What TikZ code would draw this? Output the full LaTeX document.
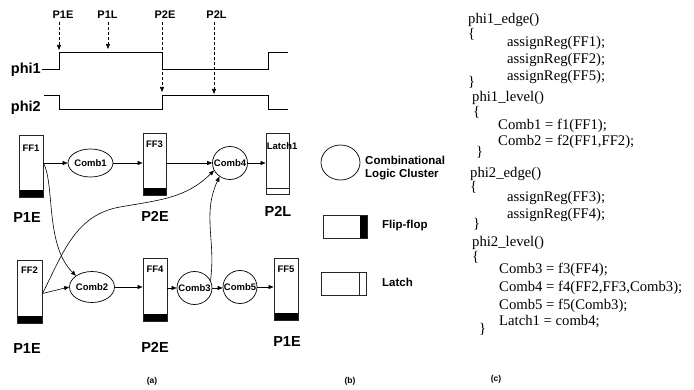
\documentclass[tikz,border=0pt]{standalone}
\usepackage{fontspec}
\setmainfont{Liberation Serif}
\setsansfont{Liberation Sans}
\usetikzlibrary{shapes.geometric,arrows.meta}
\begin{document}
\begin{tikzpicture}[x=1pt,y=-1pt,
  lab/.style={font=\fontsize{14.5}{16}\selectfont\sffamily\bfseries, inner sep=0pt},
  tlab/.style={font=\fontsize{11}{13}\selectfont\sffamily\bfseries, inner sep=0pt},
  small/.style={font=\fontsize{9.5}{11}\selectfont\sffamily\bfseries, inner sep=0pt},
  leg/.style={font=\fontsize{11.5}{13}\selectfont\sffamily\bfseries, inner sep=0pt, align=left},
  capt/.style={font=\fontsize{8.5}{10}\selectfont\sffamily\bfseries, inner sep=0pt},
  code/.style={font=\fontsize{14.7}{17}\selectfont\rmfamily, inner sep=0pt, anchor=base west},
  comb/.style={ellipse, draw, line width=0.7pt, inner sep=0pt, font=\fontsize{9.5}{11}\selectfont\sffamily\bfseries},
  reg/.style={rectangle, draw=black!85, line width=0.9pt, inner sep=0pt},
  ffbox/.style={reg, path picture={\fill (path picture bounding box.south west) rectangle ([yshift=7pt]path picture bounding box.south east);}},
  wave/.style={line width=0.8pt},
  arr/.style={-{Triangle[length=5pt,width=4pt]}, line width=0.6pt},
  darr/.style={arr, dash pattern=on 3pt off 2pt}
]
\useasboundingbox (0,0) rectangle (694,390);

% ---------- timing diagram ----------
\node[lab, anchor=east] (phi1) at (41,70) {phi1};
\node[lab, anchor=east] (phi2) at (41,108) {phi2};
\draw[wave] (42,69.5) -- (59,69.5) -- (59,52) -- (162,52) -- (162,69.5) -- (268,69.5) -- (268,52) -- (288,52);
\draw[wave] (44,95) -- (59,95) -- (59,109) -- (162,109) -- (162,95) -- (268,95) -- (268,109) -- (288,109);

\node[tlab] (p1e) at (63,15) {P1E};
\node[tlab] (p1l) at (107.5,15) {P1L};
\node[tlab] (p2e) at (165,15) {P2E};
\node[tlab] (p2l) at (216.5,15) {P2L};
\coordinate (e1) at (59,50);
\coordinate (e2) at (108,49);
\coordinate (e3) at (162,92);
\coordinate (e4) at (214,94);
\draw[darr] ([yshift=-3pt]p1e.south -| e1) -- (e1);
\draw[darr] ([yshift=-3pt]p1l.south -| e2) -- (e2);
\draw[darr] ([yshift=-3pt]p2e.south -| e3) -- (e3);
\draw[darr] ([yshift=-3pt]p2l.south -| e4) -- (e4);

% ---------- registers ----------
\node[ffbox, minimum width=24pt, minimum height=62pt] (ff1) at (31,166) {};
\node[ffbox, minimum width=23pt, minimum height=62pt] (ff3) at (154.5,164) {};
\node[reg, minimum width=23pt, minimum height=61pt] (latch1) at (277.5,163.5) {};
\draw[draw=black!85, line width=0.9pt] ([yshift=6pt]latch1.south west) -- ([yshift=6pt]latch1.south east);
\node[ffbox, minimum width=25pt, minimum height=63pt] (ff2) at (29.5,291.5) {};
\node[ffbox, minimum width=24pt, minimum height=63pt] (ff4) at (155,289.5) {};
\node[ffbox, minimum width=24pt, minimum height=62pt] (ff5) at (286,289) {};

\node[small, anchor=north] (tff1) at ([yshift=-10pt]ff1.north) {FF1};
\node[small, anchor=north] (tff3) at ([yshift=-8pt]ff3.north) {FF3};
\node[small, anchor=north west] (tl1) at ([xshift=1pt,yshift=-10pt]latch1.north west) {Latch1};
\node[small, anchor=north] (tff2) at ([yshift=-7pt]ff2.north) {FF2};
\node[small, anchor=north] (tff4) at ([yshift=-8pt]ff4.north) {FF4};
\node[small, anchor=north] (tff5) at ([yshift=-8pt]ff5.north) {FF5};

% ---------- combinational clusters ----------
\node[comb, minimum width=45pt, minimum height=28pt] (comb1) at (90.5,163) {\makebox[0pt]{Comb1}};
\node[comb, minimum width=35pt, minimum height=33pt] (comb4) at (230,163) {\makebox[0pt]{Comb4}};
\node[comb, minimum width=45pt, minimum height=31pt] (comb2) at (92,287) {\makebox[0pt]{Comb2}};
\node[comb, minimum width=35pt, minimum height=33pt] (comb3) at (194.5,288) {\makebox[0pt]{Comb3}};
\node[comb, minimum width=34pt, minimum height=33pt] (comb5) at (240,287) {\makebox[0pt]{Comb5}};

% ---------- phase labels ----------
\node[lab] (l1) at (27,218) {P1E};
\node[lab] (l2) at (155,216) {P2E};
\node[lab] (l3) at (278,211) {P2L};
\node[lab] (l4) at (27,349) {P1E};
\node[lab] (l5) at (155,347) {P2E};
\node[lab] (l6) at (287,342) {P1E};

% ---------- connectors ----------
\draw[arr] (ff1.east |- comb1.west) -- (comb1.west);
\draw[arr] (comb1.east) -- (ff3.west |- comb1.east);
\draw[arr] (ff3.east |- comb4.west) -- (comb4.west);
\draw[arr] (comb4.east) -- (latch1.west |- comb4.east);
\draw[arr] ([yshift=-2pt]ff2.east) -- (comb2.west);
\draw[arr] (comb2.east) -- (ff4.west |- comb2.east);
\draw[arr] (ff4.east |- comb3.west) -- (comb3.west);
\draw[arr] (comb3.east) -- (comb5.west |- comb3.east);
\draw[arr] (comb5.east) -- (ff5.west |- comb5.east);

\draw[arr] (ff1.east |- comb1.west) .. controls (55,185) and (45,245) .. (comb2.145);
\coordinate (w1) at (120,207);
\draw[arr] ([yshift=-2pt]ff2.east) to[out=63,in=190] (w1) to[out=10,in=225] (comb4.205);
\draw[arr] (comb3.25) .. controls (216,240) and (202,215) .. (comb4.232);

% ---------- legend ----------
\node[ellipse, draw, line width=0.7pt, inner sep=0pt, minimum width=39pt, minimum height=35pt] (lgc) at (340.5,162.5) {};
\node[leg, anchor=west] (lgct) at (365,168.5) {Combinational\\Logic Cluster};
\node[reg, minimum width=44pt, minimum height=23pt,
  path picture={\fill ([xshift=-7pt]path picture bounding box.south east) rectangle (path picture bounding box.north east);}] (lgf) at (345,226.5) {};
\node[leg, anchor=west] (lgft) at (382,226) {Flip-flop};
\node[reg, minimum width=45pt, minimum height=23pt] (lgl) at (343.5,283.5) {};
\draw[draw=black!85, line width=0.9pt] ([xshift=-7pt]lgl.north east) -- ([xshift=-7pt]lgl.south east);
\node[leg, anchor=west] (lglt) at (382,282) {Latch};

% ---------- captions ----------
\node[capt] (ca) at (152,381) {(a)};
\node[capt] (cb) at (350,381) {(b)};
\node[capt] (cc) at (496,379) {(c)};

% ---------- code ----------
\node[code] (c1) at (468,24) {phi1\_edge()};
\node[code] (c2) at (468,39) {\{};
\node[code] (c3) at (507,47) {assignReg(FF1);};
\node[code] (c4) at (507,64) {assignReg(FF2);};
\node[code] (c5) at (507,81) {assignReg(FF5);};
\node[code] (c6) at (468,87) {\}};
\node[code] (c7) at (472,102) {phi1\_level()};
\node[code] (c8) at (473,117) {\{};
\node[code] (c9) at (498,130) {Comb1 = f1(FF1);};
\node[code] (c10) at (498,146) {Comb2 = f2(FF1,FF2);};
\node[code] (c11) at (476,157) {\}};
\node[code] (c12) at (470,178) {phi2\_edge()};
\node[code] (c13) at (470,192) {\{};
\node[code] (c14) at (507,202) {assignReg(FF3);};
\node[code] (c15) at (507,219) {assignReg(FF4);};
\node[code] (c16) at (473,229) {\}};
\node[code] (c17) at (472,247) {phi2\_level()};
\node[code] (c18) at (472,262) {\{};
\node[code] (c19) at (499,274) {Comb3 = f3(FF4);};
\node[code] (c20) at (499,292) {Comb4 = f4(FF2,FF3,Comb3);};
\node[code] (c21) at (499,309) {Comb5 = f5(Comb3);};
\node[code] (c22) at (499,326) {Latch1 = comb4;};
\node[code] (c23) at (479,334) {\}};
\end{tikzpicture}
\end{document}
